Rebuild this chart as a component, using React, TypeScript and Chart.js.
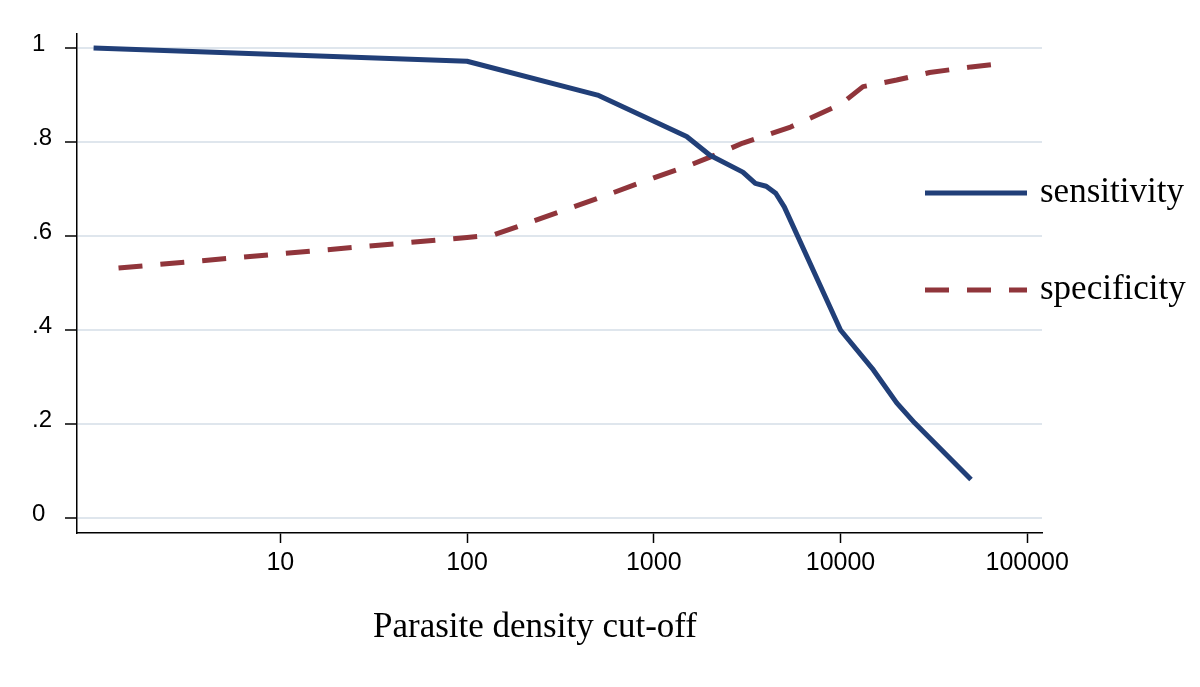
import React, { useEffect, useRef } from "react";
import { Chart, registerables } from "chart.js";

Chart.register(...registerables);

// ---- data ----
const sensitivityCutoffs = [1, 100, 500, 1500, 2000, 3000, 3500, 4000, 4500, 5000, 10000, 15000, 20000, 25000, 50000];
const sensitivityValues = [1.0, 0.972, 0.9, 0.812, 0.772, 0.736, 0.712, 0.706, 0.691, 0.662, 0.4, 0.315, 0.245, 0.202, 0.082];

const specificityCutoffs = [1.36, 100, 138, 500, 1000, 1500, 2000, 3000, 5400, 10000, 13200, 20000, 30000, 50000, 65000];
const specificityValues = [0.532, 0.597, 0.602, 0.68, 0.724, 0.748, 0.768, 0.798, 0.832, 0.88, 0.918, 0.932, 0.948, 0.96, 0.965];

const xTickValues = [10, 100, 1000, 10000, 100000];
const xTickLabels = ["10", "100", "1000", "10000", "100000"];
const yTickValues = [0, 0.2, 0.4, 0.6, 0.8, 1];
const yTickLabels = ["0", ".2", ".4", ".6", ".8", "1"];

const seriesLabels = ["sensitivity", "specificity"];
const xAxisTitle = "Parasite density cut-off";

const SANS = '"Liberation Sans", Arial, Helvetica, sans-serif';
const SERIF = '"Liberation Serif", "Times New Roman", Times, serif';

const overlayPlugin = {
  id: "overlayLegendTitle",
  afterDraw(chart: any) {
    const ctx = chart.ctx;
    const legendY = [193, 290];
    ctx.save();
    chart.data.datasets.forEach((ds: any, i: number) => {
      const y = legendY[i];
      ctx.strokeStyle = ds.borderColor;
      ctx.lineWidth = ds.borderWidth;
      ctx.lineCap = "butt";
      ctx.setLineDash(ds.borderDash || []);
      ctx.beginPath();
      ctx.moveTo(925, y);
      ctx.lineTo(1027, y);
      ctx.stroke();
      ctx.setLineDash([]);
      ctx.fillStyle = "#000";
      ctx.font = `35px ${SERIF}`;
      ctx.textAlign = "left";
      ctx.textBaseline = "alphabetic";
      ctx.fillText(ds.label, 1040, y + 9);
    });
    ctx.font = `35px ${SERIF}`;
    ctx.textAlign = "center";
    ctx.textBaseline = "alphabetic";
    ctx.fillStyle = "#000";
    ctx.fillText(xAxisTitle, 535, 637);
    ctx.restore();
  },
};

export default function App() {
  const canvasRef = useRef<HTMLCanvasElement | null>(null);

  useEffect(() => {
    const canvas = canvasRef.current;
    if (!canvas) return;
    const chart = new Chart(canvas, {
      type: "line",
      data: {
        datasets: [
          {
            label: seriesLabels[0],
            data: sensitivityCutoffs.map((x, i) => ({ x, y: sensitivityValues[i] })),
            borderColor: "#213f78",
            borderWidth: 5,
            pointRadius: 0,
            tension: 0,
            borderJoinStyle: "round",
            borderCapStyle: "butt",
          },
          {
            label: seriesLabels[1],
            data: specificityCutoffs.map((x, i) => ({ x, y: specificityValues[i] })),
            borderColor: "#90353b",
            borderWidth: 5,
            borderDash: [24, 18],
            pointRadius: 0,
            tension: 0,
            borderJoinStyle: "round",
            borderCapStyle: "butt",
          },
        ],
      },
      options: {
        responsive: false,
        animation: false,
        events: [],
        layout: { padding: { left: 32, top: 34, right: 158, bottom: 0 } },
        plugins: {
          legend: { display: false },
          tooltip: { enabled: false },
          title: { display: false },
        },
        scales: {
          x: {
            type: "logarithmic",
            min: 0.815,
            max: 120000,
            afterBuildTicks: (axis: any) => {
              axis.ticks = xTickValues.map((v) => ({ value: v }));
            },
            afterFit: (axis: any) => {
              axis.height = 154;
            },
            ticks: {
              autoSkip: false,
              maxRotation: 0,
              color: "#000",
              padding: 5,
              font: { family: SANS, size: 25 },
              callback: (v: any) => {
                const idx = xTickValues.indexOf(Number(v));
                return idx >= 0 ? xTickLabels[idx] : "";
              },
            },
            grid: {
              drawOnChartArea: false,
              drawTicks: true,
              tickLength: 10,
              tickColor: "#000",
              tickWidth: 1.5,
            },
            border: { display: true, color: "#000", width: 1.5 },
          },
          y: {
            type: "linear",
            min: -0.032,
            max: 1.03,
            afterBuildTicks: (axis: any) => {
              axis.ticks = yTickValues.map((v) => ({ value: v }));
            },
            afterFit: (axis: any) => {
              axis.width = 45;
            },
            ticks: {
              autoSkip: false,
              color: "#000",
              padding: 8,
              crossAlign: "far",
              labelOffset: -4,
              font: { family: SANS, size: 24 },
              callback: (v: any) => {
                const idx = yTickValues.findIndex((t) => Math.abs(t - Number(v)) < 1e-9);
                return idx >= 0 ? yTickLabels[idx] : "";
              },
            },
            grid: {
              drawOnChartArea: true,
              drawTicks: true,
              tickLength: 12,
              color: "#dfe6ed",
              lineWidth: 2,
              tickColor: "#000",
              tickWidth: 1.5,
            },
            border: { display: true, color: "#000", width: 1.5 },
          },
        },
      },
      plugins: [overlayPlugin],
    } as any);
    return () => chart.destroy();
  }, []);

  return (
    <div style={{ position: "absolute", left: 0, top: 0, width: 1200, height: 687, background: "#fff" }}>
      <canvas ref={canvasRef} width={1200} height={687} />
    </div>
  );
}
